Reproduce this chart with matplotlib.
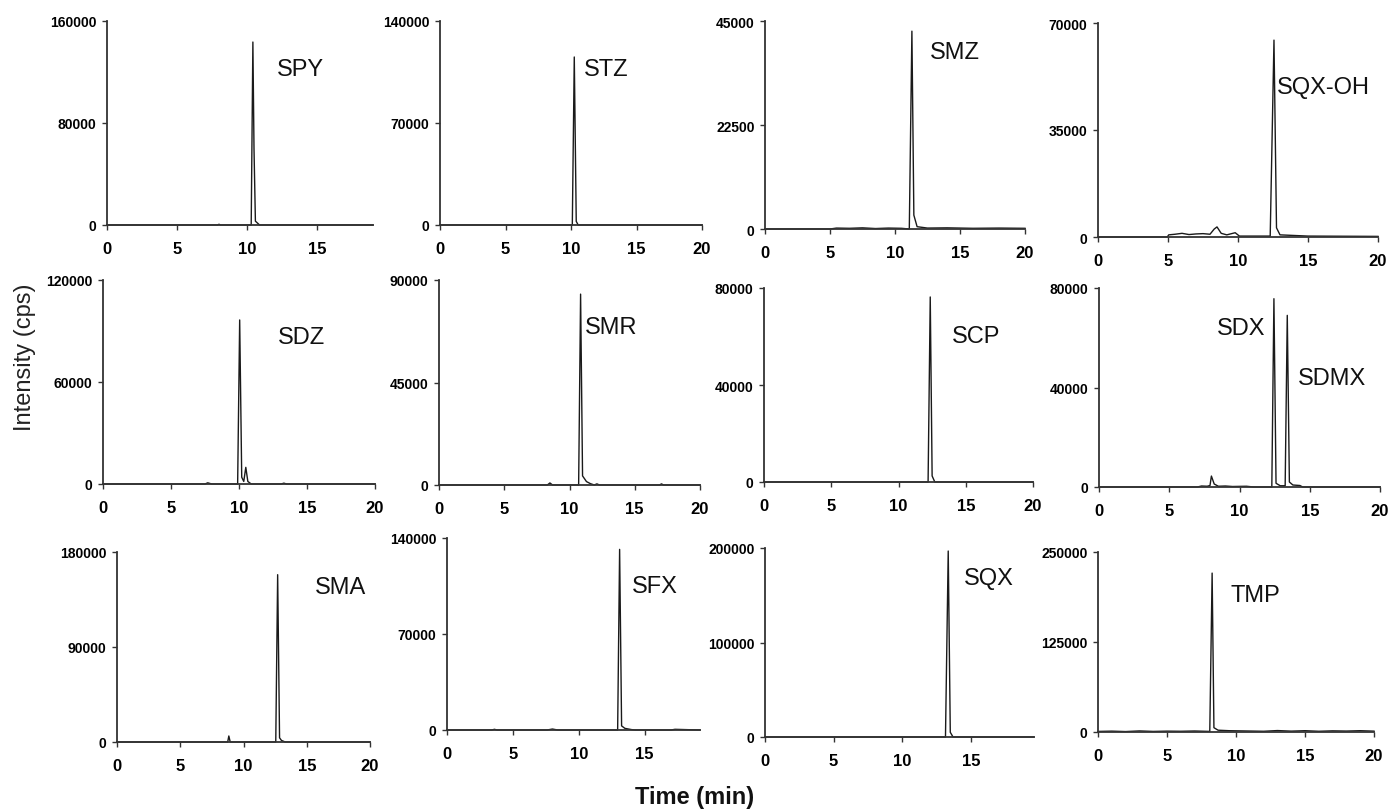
import matplotlib.pyplot as plt

# Cromatogramas (tiempo en min, intensidad en cps) de cada compuesto
spy_t = [0, 7.9, 8.0, 8.1, 10.3, 10.42, 10.5, 10.6, 10.75, 10.9, 19]
spy_i = [0, 0, 600, 0, 0, 143500, 60000, 3000, 1500, 0, 0]

stz_t = [0, 10.1, 10.25, 10.4, 10.55, 20]
stz_i = [0, 0, 115300, 2500, 0, 0]

smz_t = [0, 5.0, 5.5, 6.5, 7.5, 8.5, 9.5, 10.5, 11.1, 11.3, 11.45, 11.7, 12.5, 14, 16, 18, 20]
smz_i = [0, 0, 200, 150, 250, 100, 200, 150, 0, 42800, 3000, 500, 200, 250, 150, 200, 150]

sqxoh_t = [0, 4.95, 5.05, 5.5, 6.0, 6.5, 7.0, 7.5, 8.0, 8.3, 8.5, 8.8, 9.2, 9.8, 10.1, 11, 12.3, 12.57, 12.75, 13.0, 15, 20]
sqxoh_i = [0, 0, 700, 900, 1200, 800, 1000, 1100, 900, 2600, 3300, 1200, 700, 1400, 300, 300, 300, 64400, 3000, 700, 300, 200]

sdz_t = [0, 7.5, 7.7, 8.0, 9.9, 10.05, 10.2, 10.35, 10.5, 10.65, 10.9, 13.1, 13.3, 13.5, 20]
sdz_i = [0, 0, 700, 0, 0, 96500, 4000, 1500, 9800, 1500, 0, 0, 500, 0, 0]

smr_t = [0, 8.3, 8.5, 8.7, 10.7, 10.85, 11.0, 11.3, 11.6, 11.9, 12.1, 12.3, 16.9, 17.05, 17.2, 20]
smr_i = [0, 0, 900, 0, 0, 83800, 4000, 1500, 600, 0, 500, 0, 0, 500, 0, 0]

scp_t = [0, 12.2, 12.36, 12.5, 12.7, 20]
scp_i = [0, 0, 76300, 2500, 0, 0]

sdx_t = [0, 7.0, 7.3, 7.7, 7.9, 8.0, 8.2, 8.5, 9.0, 9.5, 10.5, 11, 12.3, 12.45, 12.6, 12.9,
         13.25, 13.4, 13.55, 13.8, 14.3, 14.5, 20]
sdx_i = [0, 0, 400, 300, 600, 4400, 1200, 300, 400, 200, 300, 0, 0, 75700, 1500, 500,
         500, 69000, 2000, 800, 600, 0, 0]

sma_t = [0, 8.75, 8.84, 8.95, 12.55, 12.7, 12.85, 13.0, 13.3, 20]
sma_i = [0, 0, 5700, 0, 0, 158500, 4000, 1500, 0, 0]

sfx_t = [0, 3.4, 3.6, 3.8, 7.6, 8.0, 8.4, 12.95, 13.1, 13.25, 13.5, 14.0, 14.3, 17.0, 17.3, 19.2]
sfx_i = [0, 0, 500, 0, 0, 700, 0, 0, 131700, 3000, 1200, 300, 0, 0, 500, 0]

sqx_t = [0, 13.15, 13.35, 13.5, 13.7, 19.6]
sqx_i = [0, 0, 196800, 5000, 0, 0]

tmp_t = [0, 1, 2, 3, 4, 5, 6, 7, 8.1, 8.27, 8.4, 8.7, 9.5, 10.5, 12, 13, 14, 15, 16, 17, 18, 19, 20]
tmp_i = [800, 1200, 600, 1500, 800, 1200, 1000, 1400, 800, 220700, 6000, 2500, 1800, 1500,
         1000, 2000, 1200, 1800, 1000, 1600, 1300, 1800, 1200]

# Maximo del eje y y del eje x de cada panel
y_max = [160000, 140000, 45000, 70000,
         120000, 90000, 80000, 80000,
         180000, 140000, 200000, 250000]
x_max = [19, 20, 20, 20,
         20, 20, 20, 20,
         20, 19.2, 19.6, 20]

# Etiquetas de los picos: (texto, x, y)
etiquetas = [
    [('SPY', 13.8, 122000)],
    [('STZ', 12.7, 107000)],
    [('SMZ', 14.6, 38300)],
    [('SQX-OH', 16.1, 49000)],
    [('SDZ', 14.6, 86500)],
    [('SMR', 13.2, 69400)],
    [('SCP', 15.8, 60200)],
    [('SDX', 10.1, 63900), ('SDMX', 16.6, 43800)],
    [('SMA', 17.7, 146800)],
    [('SFX', 15.8, 105000)],
    [('SQX', 16.3, 168000)],
    [('TMP', 11.4, 190000)],
]

trazas = [(spy_t, spy_i), (stz_t, stz_i), (smz_t, smz_i), (sqxoh_t, sqxoh_i),
          (sdz_t, sdz_i), (smr_t, smr_i), (scp_t, scp_i), (sdx_t, sdx_i),
          (sma_t, sma_i), (sfx_t, sfx_i), (sqx_t, sqx_i), (tmp_t, tmp_i)]

# Caja de cada panel en pixeles: izquierda, derecha, arriba, abajo
cajas = [(107, 373, 22, 226), (440, 702, 22, 226), (765, 1025, 22, 230), (1098, 1378, 24, 238),
         (103, 375, 281, 485), (439, 700, 281, 486), (764, 1033, 289, 483), (1099, 1380, 289, 488),
         (117, 370, 553, 743), (447, 700, 539, 731), (765, 1034, 549, 738), (1098, 1374, 553, 733)]

W, H = 1391, 812
fig = plt.figure(figsize=(W / 100, H / 100), dpi=100)

fuente = ['Liberation Sans', 'DejaVu Sans']

for k in range(12):
    izq, der, arr, aba = cajas[k]
    ax = fig.add_axes([izq / W, 1 - aba / H, (der - izq) / W, (aba - arr) / H])
    t, i = trazas[k]
    ax.plot(t, i, color='#1a1a1a', lw=1.0, clip_on=False)
    ax.set_xlim(0, x_max[k])
    ax.set_ylim(0, y_max[k])
    ax.set_yticks([0, y_max[k] / 2, y_max[k]])
    ax.set_yticklabels([str(int(v)) for v in [0, y_max[k] / 2, y_max[k]]])
    xt = [v for v in [0, 5, 10, 15, 20] if v <= x_max[k]]
    ax.set_xticks(xt)
    for s in ['top', 'right']:
        ax.spines[s].set_visible(False)
    for s in ['left', 'bottom']:
        ax.spines[s].set_color('#333333')
        ax.spines[s].set_linewidth(1.3)
    ax.tick_params(axis='both', direction='out', length=3.5, width=1.0, color='#333333')
    ax.tick_params(axis='x', pad=8)
    ax.tick_params(axis='y', pad=4)
    for lab in ax.get_xticklabels():
        lab.set_fontfamily(fuente)
        lab.set_fontweight('bold')
        lab.set_fontsize(12)
    for lab in ax.get_yticklabels():
        lab.set_fontfamily(fuente)
        lab.set_fontweight('bold')
        lab.set_fontsize(10)
    for texto, x, y in etiquetas[k]:
        ax.text(x, y, texto, ha='center', va='center', fontsize=17, family=fuente, color='#111111')

fig.text(25 / W, 1 - 357 / H, 'Intensity (cps)', rotation=90, ha='center', va='center',
         fontsize=17, family=fuente, color='#222222')
fig.text(695 / W, 1 - 798 / H, 'Time (min)', ha='center', va='center',
         fontsize=17, fontweight='bold', family=fuente, color='#111111')

plt.savefig('out.png', dpi=100)
